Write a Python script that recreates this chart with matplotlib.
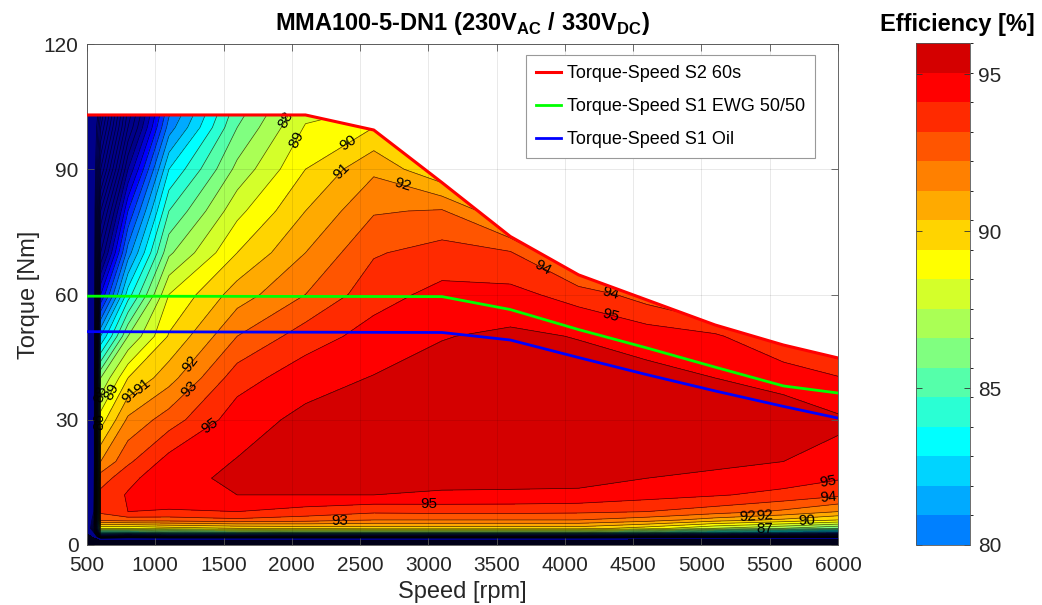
import numpy as np
import matplotlib.pyplot as plt
from matplotlib.colors import ListedColormap, BoundaryNorm
from matplotlib.patches import Polygon
from matplotlib.cm import ScalarMappable

plt.rcParams['font.family'] = ['Liberation Sans', 'DejaVu Sans']
plt.rcParams['mathtext.fontset'] = 'custom'
plt.rcParams['mathtext.rm'] = 'Liberation Sans'
plt.rcParams['mathtext.bf'] = 'Liberation Sans:bold'

# efficiency map (speed columns x torque rows)
speed = [500, 550, 600, 800, 1100, 1600, 2100, 2600, 3100, 3600, 4100, 4600, 5100, 5600, 6000]
torque = [0, 1, 2, 3, 4, 6, 8, 12, 16, 20, 30, 40, 50, 60, 70, 80, 90, 100, 110]
eff_cols = [
    [0, 20, 40, 50, 55, 55, 55, 55, 55, 55, 55, 55, 55, 55, 55, 55, 55, 55, 55],
    [0, 25, 50, 60, 65, 62, 60, 59, 58.5, 58, 58, 58, 58, 58, 58, 58, 58, 58, 58],
    [0, 40, 72, 84, 89, 93.3, 94.2, 94.3, 93.5, 92, 89.5, 87, 82, 77, 73, 70, 66, 63, 60],
    [0, 35, 70, 84, 89, 93.5, 95.0, 95.1, 94.7, 93.8, 92.2, 90.0, 87.0, 83.5, 80.5, 78.0, 75.0, 72.0, 70.0],
    [0, 35, 72, 85, 89.5, 93.5, 94.9, 95.6, 95.75, 95.4, 93.5, 91.6, 90.1, 89.0, 86.8, 85.0, 83.0, 80.5, 78.5],
    [0, 35, 72, 85.5, 90, 93.8, 95.0, 96.0, 96.15, 96.05, 95.55, 94.55, 93.0, 91.5, 90.0, 88.7, 87.3, 86.0, 84.8],
    [0, 35, 72, 86, 90.3, 93.5, 94.6, 96.0, 96.2, 96.3, 96.25, 95.6, 94.5, 93.0, 92.0, 91.0, 90.0, 89.1, 88.0],
    [0, 35, 72, 86, 90.5, 93, 94.2, 96.0, 96.2, 96.35, 96.3, 96.05, 95.4, 94.6, 93.9, 92.9, 91.8, 90.0, 88.0],
    [0, 35, 72, 86, 90.5, 93, 94.3, 95.9, 96.25, 96.5, 96.6, 96.4, 95.95, 95.3, 94.4, 93.1, 90.0, 87, 85],
    [0, 35, 72, 86, 90.5, 93, 94.3, 95.85, 96.3, 96.55, 96.8, 96.6, 96.2, 95.3, 94.1, 91.0, 88, 86, 84],
    [0, 35, 72, 86, 90.5, 93, 94.2, 95.8, 96.3, 96.5, 96.7, 96.5, 95.95, 94.6, 91.5, 89, 87, 85, 83],
    [0, 33, 71, 85, 89.5, 92.5, 94.0, 95.4, 96.0, 96.3, 96.6, 96.3, 95.6, 93.5, 91, 89, 87, 85, 83],
    [0, 32, 70, 83, 88, 91.5, 93.5, 95.1, 95.8, 96.2, 96.5, 96.0, 95.2, 92.0, 90, 88, 86, 84, 82],
    [0, 31, 69, 81.5, 87, 90.8, 92.8, 94.7, 95.5, 96.0, 96.3, 95.8, 93.7, 91, 89, 87, 85, 83, 81],
    [0, 30, 68, 80, 86, 90, 92.0, 94.2, 95.1, 95.75, 96.15, 95.1, 92.7, 90, 88, 86, 84, 82, 80],
]

# torque-speed limit curves
s2_speed = [500, 2100, 2600, 3100, 3600, 4100, 4600, 5100, 5600, 6000]
s2_torque = [103.0, 103.0, 99.4, 86.8, 73.9, 64.7, 58.7, 52.7, 47.9, 44.8]
ewg_speed = [500, 3100, 3600, 4100, 4600, 5100, 5600, 6000]
ewg_torque = [59.6, 59.5, 56.4, 51.6, 47.2, 42.6, 38.1, 36.4]
oil_speed = [500, 3100, 3600, 4100, 4600, 5100, 5600, 6000]
oil_torque = [51.1, 50.9, 49.1, 44.9, 40.8, 36.9, 33.2, 30.4]

# contour levels and colours (one colour per 1 % band, jet-like steps)
fill_levels = [0, 50] + list(range(60, 98))
line_levels = list(range(60, 98))
label_levels = list(range(86, 97))
band_hex = ['#00008a', '#0000aa', '#0000d4', '#0000ff', '#002aff', '#0055ff',
            '#0080ff', '#00aaff', '#00d4ff', '#00ffff', '#2affd4', '#55ffaa',
            '#80ff80', '#aaff55', '#d4ff2a', '#ffff00', '#ffd400', '#ffaa00',
            '#ff8000', '#ff5500', '#ff2a00', '#ff0000', '#d40000']  # bands 74..96
fill_colors = ['#000018'] + [band_hex[max(L, 74) - 74] for L in fill_levels[1:-1]]

# where MATLAB put the contour labels
label_at = [(1950, 102), (2035, 97), (2400, 97), (2350, 90), (2810, 86.5), (3840, 66.5),
            (4330, 59.5), (4340, 55.5), (1280, 43), (1290, 36), (1380, 29.5),
            (945, 36.7), (830, 35.5), (705, 36.4), (573, 29.5), (610, 36),
            (3000, 8.9), (2350, 6.5), (5930, 14.4), (5930, 11.5), (5340, 7.2),
            (5460, 6.7), (5770, 6.0), (5460, 4.0)]

S, T = np.meshgrid(speed, torque)
eff = np.array(eff_cols).T

fig = plt.figure(figsize=(10.42, 6.05), dpi=100)
ax = fig.add_axes([87 / 1042, 60 / 605, 751 / 1042, 501 / 605])

cf = ax.contourf(S, T, eff, levels=fill_levels, colors=fill_colors)
cl = ax.contour(S, T, eff, levels=line_levels, colors='k', linewidths=0.5, alpha=0.7)
lab = ax.contour(S, T, eff, levels=label_levels, colors='k', linewidths=0)

# only show the map below the S2 limit
clip = Polygon(list(zip(s2_speed, s2_torque)) + [(6000, 0), (500, 0)],
               closed=True, transform=ax.transData)
cf.set_clip_path(clip)
cl.set_clip_path(clip)
lab.set_clip_path(clip)

ax.clabel(lab, manual=label_at, inline=False, fontsize=11, fmt='%d', colors='k')

ax.plot(s2_speed, s2_torque, color='#ff0000', lw=2.2, label='Torque-Speed S2 60s', zorder=5)
ax.plot(ewg_speed, ewg_torque, color='#00ff00', lw=2, label='Torque-Speed S1 EWG 50/50', zorder=4)
ax.plot(oil_speed, oil_torque, color='#0000ff', lw=2, label='Torque-Speed S1 Oil', zorder=4)

ax.set_xlim(500, 6000)
ax.set_ylim(0, 120)
ax.set_xticks(range(500, 6001, 500))
ax.set_yticks([0, 30, 60, 90, 120])
ax.grid(True, color='k', alpha=0.1, lw=0.6)
ax.set_axisbelow(False)
ax.tick_params(direction='in', top=True, right=True, length=5, width=0.6,
               color='#555555', labelsize=15, labelcolor='#262626')
ax.tick_params(axis='x', pad=8)
ax.tick_params(axis='y', pad=6)
for sp in ax.spines.values():
    sp.set_color('#666666')
    sp.set_linewidth(0.7)

ax.set_xlabel('Speed [rpm]', fontsize=17, color='#262626', labelpad=4)
ax.set_ylabel('Torque [Nm]', fontsize=17, color='#262626', labelpad=3)
ax.set_title(r'MMA100-5-DN1 (230V$_{\mathbf{AC}}$ / 330V$_{\mathbf{DC}}$)',
             fontsize=17, fontweight='bold', pad=10)

leg = ax.legend(loc='upper right', bbox_to_anchor=(0.969, 0.978), borderaxespad=0,
                fontsize=13, fancybox=False, framealpha=1, edgecolor='#999999',
                handlelength=1.4, handletextpad=0.3, labelspacing=0.9, borderpad=0.55)
leg.get_frame().set_linewidth(0.8)

# colorbar as MATLAB showed it: 17 bands spanning 80..96
cax = fig.add_axes([916 / 1042, 60 / 605, 54 / 1042, 502 / 605])
cb_norm = BoundaryNorm(np.linspace(80, 96, 18), 17)
sm = ScalarMappable(norm=cb_norm, cmap=ListedColormap(band_hex[6:]))
cbar = fig.colorbar(sm, cax=cax, ticks=[80, 85, 90, 95])
cbar.ax.tick_params(direction='in', left=True, right=True, length=4, width=0.6,
                    labelsize=15, labelcolor='#262626', color='#333333', pad=6)
cbar.outline.set_linewidth(0.6)
cbar.outline.set_edgecolor('#555555')
fig.text(957 / 1042, 1 - 25 / 605, 'Efficiency [%]', ha='center', va='center',
         fontsize=17, fontweight='bold')

fig.savefig('out.png', dpi=100)
